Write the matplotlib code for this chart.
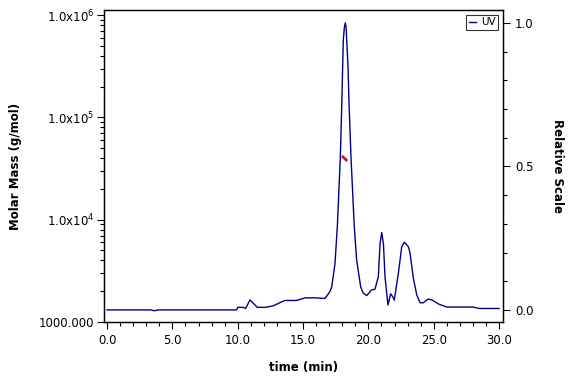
import matplotlib
matplotlib.use("Agg")
import matplotlib.pyplot as plt
from matplotlib.ticker import FixedLocator, MultipleLocator, LogLocator, NullFormatter

# UV trace (time in min, relative scale)
uv_time = [0.0, 3.4, 3.6, 3.9, 7.0, 9.92, 10.0, 10.43, 10.6, 10.94, 11.5, 12.1, 12.7,
           13.6, 14.5, 15.15, 16.0, 16.68, 17.06, 17.19, 17.44, 17.62, 17.85, 17.96,
           18.03, 18.08, 18.16, 18.23, 18.29, 18.34, 18.44, 18.52, 18.67, 18.92, 19.1,
           19.41, 19.6, 19.87, 20.25, 20.5, 20.76, 20.89, 21.02, 21.15, 21.27, 21.4,
           21.5, 21.7, 21.86, 21.98, 22.29, 22.55, 22.75, 23.06, 23.18, 23.44, 23.7,
           23.95, 24.2, 24.58, 24.84, 25.4, 26.0, 28.0, 28.5, 30.0]
uv_value = [0.0, 0.0, -0.003, 0.0, 0.0, 0.0, 0.009, 0.009, 0.005, 0.035, 0.009, 0.009, 0.014,
            0.033, 0.033, 0.042, 0.042, 0.04, 0.064, 0.08, 0.16, 0.289, 0.53, 0.714,
            0.847, 0.941, 0.985, 1.0, 0.985, 0.941, 0.847, 0.714, 0.53, 0.289, 0.174,
            0.08, 0.059, 0.05, 0.07, 0.072, 0.116, 0.23, 0.27, 0.23, 0.116, 0.058,
            0.017, 0.056, 0.046, 0.034, 0.127, 0.22, 0.236, 0.22, 0.20, 0.11, 0.052,
            0.025, 0.025, 0.038, 0.035, 0.02, 0.01, 0.01, 0.005, 0.005]

# Molar mass across the main peak
mm_time = [17.98, 18.1, 18.22, 18.38]
mm_value = [42000, 40500, 39200, 37500]

left_ticks = [1000, 1e4, 1e5, 1e6]
left_labels = ['1000.000', r'$\mathregular{1.0x10^{4}}$', r'$\mathregular{1.0x10^{5}}$',
               r'$\mathregular{1.0x10^{6}}$']
x_ticks = [0, 5, 10, 15, 20, 25, 30]
x_labels = ['0.0', '5.0', '10.0', '15.0', '20.0', '25.0', '30.0']
right_ticks = [0.0, 0.5, 1.0]
right_labels = ['0.0', '0.5', '1.0']

plt.rcParams['font.family'] = ['DejaVu Sans']
fig = plt.figure(figsize=(5.76, 3.84), dpi=100)
ax = fig.add_axes([0.1806, 0.1615, 0.6927, 0.8125])
ax2 = ax.twinx()

ax.set_yscale('log')
ax.set_ylim(1000, 1.12e6)
ax.set_xlim(-0.23, 30.3)
ax2.set_ylim(-0.042, 1.045)

line_uv, = ax2.plot(uv_time, uv_value, color='#00008B', lw=1.0, label='UV')
ax.plot(mm_time, mm_value, color='#D0102A', lw=2.0, solid_capstyle='butt')
ax.set_zorder(ax2.get_zorder() + 1)
ax.patch.set_visible(False)

ax.yaxis.set_major_locator(FixedLocator(left_ticks))
ax.set_yticklabels(left_labels)
ax.yaxis.set_minor_locator(LogLocator(base=10, subs=range(2, 10)))
ax.yaxis.set_minor_formatter(NullFormatter())
ax.set_xticks(x_ticks)
ax.set_xticklabels(x_labels)
ax.xaxis.set_minor_locator(MultipleLocator(1))
ax2.set_yticks(right_ticks)
ax2.set_yticklabels(right_labels)
ax2.yaxis.set_minor_locator(MultipleLocator(0.1))

for a in (ax, ax2):
    a.tick_params(which='major', direction='out', length=5, width=0.8, labelsize=8.5, colors='black')
    a.tick_params(which='minor', direction='out', length=3, width=0.8)
    for s in a.spines.values():
        s.set_linewidth(0.9)
        s.set_color('black')
ax.tick_params(axis='y', which='major', pad=2)

ax.set_xlabel('time (min)', fontsize=8.5, fontweight='bold', labelpad=10)
ax.set_ylabel('Molar Mass (g/mol)', fontsize=8.5, fontweight='bold', labelpad=12)
ax2.set_ylabel('Relative Scale', fontsize=8.5, fontweight='bold', rotation=270, labelpad=22)

leg = ax.legend([line_uv], ['UV'], loc='upper right', fontsize=7.5, frameon=True, fancybox=False,
                borderpad=0.25, handlelength=0.7, handletextpad=0.5, borderaxespad=0.45)
leg.get_frame().set_edgecolor('black')
leg.get_frame().set_linewidth(0.8)

fig.savefig('out.png', dpi=100)
